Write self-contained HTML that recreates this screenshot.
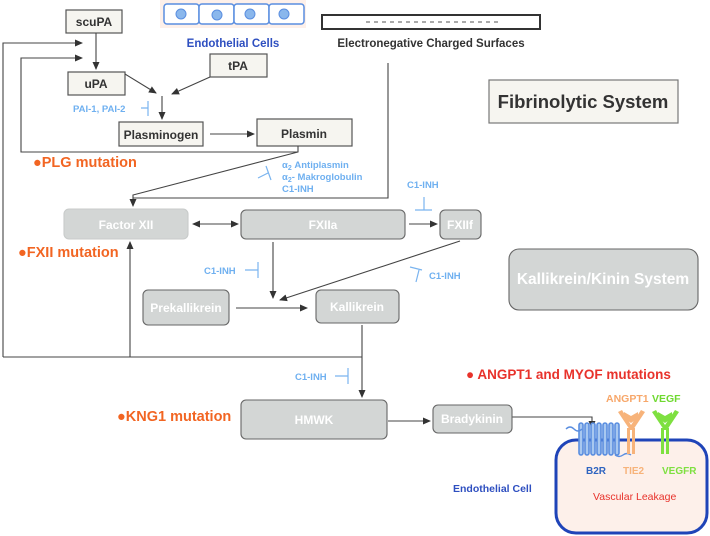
<!DOCTYPE html>
<html><head><meta charset="utf-8"><style>
html,body{margin:0;padding:0;background:#fff;}
svg{display:block;font-family:"Liberation Sans",Arial,sans-serif;}
</style></head><body>
<svg width="710" height="536" viewBox="0 0 710 536" xmlns="http://www.w3.org/2000/svg">
<defs>
<marker id="a" markerWidth="8" markerHeight="8" refX="7" refY="4" orient="auto" markerUnits="userSpaceOnUse"><path d="M0,0.5 L8,4 L0,7.5 z" fill="#333"/></marker>
<marker id="as" markerWidth="8" markerHeight="8" refX="1" refY="4" orient="auto" markerUnits="userSpaceOnUse"><path d="M8,0.5 L0,4 L8,7.5 z" fill="#333"/></marker>
</defs>
<rect x="160" y="0" width="146" height="28" fill="#fdf0ea" stroke="none"/>
<g stroke="#5a8ee0" stroke-width="1.5" fill="#fff">
<rect x="164" y="4" width="35" height="20" rx="3"/>
<rect x="199" y="4" width="35" height="20" rx="3"/>
<rect x="234" y="4" width="35" height="20" rx="3"/>
<rect x="269" y="4" width="35" height="20" rx="3"/>
</g>
<g fill="#8ab7ec" stroke="#5a8ee0" stroke-width="1">
<circle cx="181" cy="14" r="5"/><circle cx="217" cy="15" r="5"/><circle cx="250" cy="14" r="5"/><circle cx="284" cy="14" r="5"/>
</g>
<text x="233" y="47" font-size="11.5" font-weight="bold" fill="#2e4fc0" text-anchor="middle">Endothelial Cells</text>
<rect x="322" y="15" width="218" height="14" fill="#fff" stroke="#333" stroke-width="2"/>
<line x1="366" y1="22" x2="498" y2="22" stroke="#555" stroke-width="1" stroke-dasharray="4,4"/>
<text x="431" y="47" font-size="11.5" font-weight="bold" fill="#333" text-anchor="middle">Electronegative Charged Surfaces</text>

<g fill="#f6f5f0" stroke="#555" stroke-width="1.2">
<rect x="66" y="10" width="56" height="23"/>
<rect x="68" y="72" width="57" height="23"/>
<rect x="210" y="54" width="57" height="23"/>
<rect x="119" y="122" width="84" height="24"/>
<rect x="257" y="119" width="95" height="27"/>
<rect x="489" y="80" width="189" height="43" stroke="#777"/>
</g>
<g font-weight="bold" fill="#333" text-anchor="middle" font-size="12">
<text x="94" y="26">scuPA</text>
<text x="96" y="88">uPA</text>
<text x="238" y="70">tPA</text>
<text x="161" y="139">Plasminogen</text>
<text x="304" y="138">Plasmin</text>
<text x="583" y="108" font-size="18.5">Fibrinolytic System</text>
</g>

<g stroke="#444" stroke-width="1.1" fill="none">
<polyline points="3,357 3,43 82,43" marker-end="url(#a)"/>
<polyline points="298,152 21,152 21,58 82,58" marker-end="url(#a)"/>
<line x1="96" y1="33" x2="96" y2="69" marker-end="url(#a)"/>
<line x1="125" y1="74" x2="156" y2="93" marker-end="url(#a)"/>
<line x1="210" y1="77" x2="172" y2="94" marker-end="url(#a)"/>
<line x1="162" y1="96" x2="162" y2="119" marker-end="url(#a)"/>
<line x1="210" y1="134" x2="254" y2="134" marker-end="url(#a)"/>
<polyline points="298,146 298,152 133,195 133,206" marker-end="url(#a)"/>
<polyline points="388,63 388,198 133,198"/>
<line x1="193" y1="224" x2="238" y2="224" marker-start="url(#as)" marker-end="url(#a)"/>
<line x1="409" y1="224" x2="437" y2="224" marker-end="url(#a)"/>
<line x1="273" y1="242" x2="273" y2="298" marker-end="url(#a)"/>
<line x1="460" y1="241" x2="280" y2="300" marker-end="url(#a)"/>
<line x1="236" y1="308" x2="307" y2="308" marker-end="url(#a)"/>
<polyline points="3,357 362,357"/>
<line x1="362" y1="325" x2="362" y2="397" marker-end="url(#a)"/>
<line x1="130" y1="357" x2="130" y2="242" marker-end="url(#a)"/>
<line x1="388" y1="421" x2="430" y2="421" marker-end="url(#a)"/>
<polyline points="512,417 592,417 592,428" marker-end="url(#a)"/>
</g>

<g stroke="#7ab4ef" stroke-width="1.2" fill="none">
<path d="M141,108 H148 M148,101 V116"/>
<path d="M258,178 L268,173 M266,166 L271,180"/>
<path d="M424,197 V210 M415,210 H432"/>
<path d="M245,270 H258 M258,262 V278"/>
<path d="M416,282 L419,270 M410,267 L422,270"/>
<path d="M335,376 H348 M348,368 V384"/>
</g>
<g fill="#6fb0f0" font-size="9.5" font-weight="bold">
<text x="73" y="112">PAI-1, PAI-2</text>
<text x="282" y="168">α<tspan font-size="7" dy="2">2</tspan><tspan dy="-2"> Antiplasmin</tspan></text>
<text x="282" y="180">α<tspan font-size="7" dy="2">2</tspan><tspan dy="-2">- Makroglobulin</tspan></text>
<text x="282" y="192">C1-INH</text>
<text x="407" y="188">C1-INH</text>
<text x="204" y="274">C1-INH</text>
<text x="429" y="279">C1-INH</text>
<text x="295" y="380">C1-INH</text>
</g>

<g fill="#f26522" font-size="14.5" font-weight="bold">
<text x="33" y="167">●PLG mutation</text>
<text x="18" y="257">●FXII mutation</text>
<text x="117" y="421">●KNG1 mutation</text>
</g>
<text x="466" y="379" fill="#e8322b" font-size="13.5" font-weight="bold">● ANGPT1 and MYOF mutations</text>

<g fill="#d3d6d5" stroke="#666" stroke-width="1.1">
<rect x="64" y="209" width="124" height="30" rx="5" stroke="#c8cbca"/>
<rect x="241" y="210" width="164" height="29" rx="5"/>
<rect x="440" y="210" width="41" height="29" rx="5"/>
<rect x="143" y="290" width="86" height="35" rx="5"/>
<rect x="316" y="290" width="83" height="33" rx="5"/>
<rect x="241" y="400" width="146" height="39" rx="5"/>
<rect x="433" y="405" width="79" height="28" rx="5"/>
<rect x="509" y="249" width="189" height="61" rx="10"/>
</g>
<g fill="#fff" font-weight="bold" text-anchor="middle" font-size="12">
<text x="126" y="229">Factor XII</text>
<text x="323" y="229">FXIIa</text>
<text x="460" y="229">FXIIf</text>
<text x="186" y="312">Prekallikrein</text>
<text x="357" y="311">Kallikrein</text>
<text x="314" y="424">HMWK</text>
<text x="472" y="423">Bradykinin</text>
<text x="603" y="284" font-size="15.5">Kallikrein/Kinin System</text>
</g>

<rect x="556" y="440" width="151" height="93" rx="20" fill="#fdf0ea" stroke="#1f44b8" stroke-width="3"/>
<g stroke="#5a8ee0" stroke-width="1.6" fill="#a8c8f0">
<rect x="579" y="423" width="4" height="32" rx="2"/>
<rect x="585" y="423" width="4" height="32" rx="2"/>
<rect x="591" y="423" width="4" height="32" rx="2"/>
<rect x="597" y="423" width="4" height="32" rx="2"/>
<rect x="603" y="423" width="4" height="32" rx="2"/>
<rect x="609" y="423" width="4" height="32" rx="2"/>
<rect x="615" y="423" width="4" height="32" rx="2"/>
</g>
<path d="M566,429 q4,-4 8,0 t8,0" stroke="#5a8ee0" stroke-width="1.4" fill="none"/>
<path d="M615,455 q4,3 8,0 t8,0" stroke="#5a8ee0" stroke-width="1.4" fill="none"/>
<g fill="#f7b37a">
<path d="M618,412 L630,430 L633,430 L645,412 L641,410 L631,425 L622,410 Z"/>
<rect x="627" y="428" width="3" height="26"/><rect x="632" y="428" width="3" height="26"/>
<path d="M624,412 L631,416 L638,412 L638,418 L631,423 L624,418 Z"/>
</g>
<g fill="#7ee040">
<path d="M652,412 L664,430 L667,430 L679,412 L675,410 L665,425 L656,410 Z"/>
<rect x="661" y="428" width="3" height="26"/><rect x="666" y="428" width="3" height="26"/>
<path d="M658,412 L665,416 L672,412 L672,418 L665,423 L658,418 Z"/>
</g>
<text x="606" y="402" fill="#f7a76a" font-size="10.5" font-weight="bold">ANGPT1</text>
<text x="652" y="402" fill="#6fd930" font-size="10.5" font-weight="bold">VEGF</text>
<text x="586" y="474" fill="#2e64c0" font-size="10" font-weight="bold">B2R</text>
<text x="623" y="474" fill="#f7b37a" font-size="10" font-weight="bold">TIE2</text>
<text x="662" y="474" fill="#7ee040" font-size="10" font-weight="bold">VEGFR</text>
<text x="453" y="492" fill="#2e4fc0" font-size="10.5" font-weight="bold">Endothelial Cell</text>
<text x="593" y="500" fill="#e8322b" font-size="10.5">Vascular Leakage</text>
</svg>
</body></html>
